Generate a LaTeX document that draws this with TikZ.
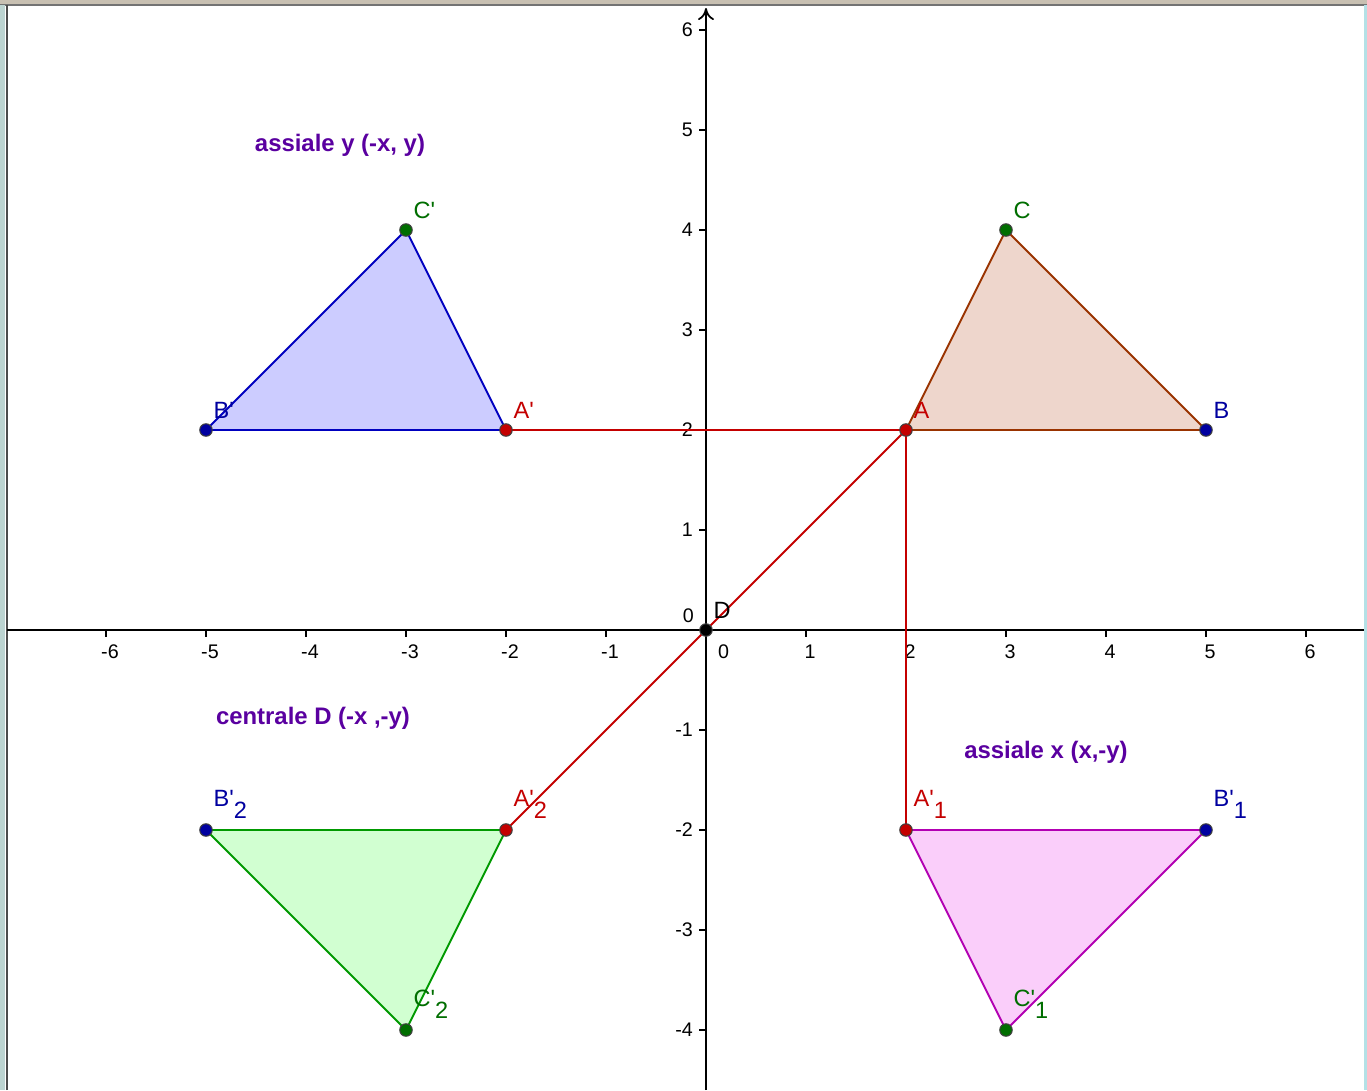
\documentclass[tikz,border=0pt]{standalone}
\usepackage{fontspec}
\setmainfont{Liberation Sans}
\usepackage{xcolor}
\definecolor{ggRed}{RGB}{196,0,0}
\definecolor{ggBlue}{RGB}{0,0,160}
\definecolor{ggGreen}{RGB}{0,110,0}
\definecolor{ggPurple}{RGB}{90,0,160}
\definecolor{ggBrown}{RGB}{153,51,0}
\definecolor{ggTan}{RGB}{238,214,204}
\definecolor{ggPink}{RGB}{250,206,250}
\definecolor{ggFrame}{RGB}{200,192,178}
\definecolor{ggSky}{RGB}{180,225,230}
\usepackage{tikz}
\usetikzlibrary{arrows.meta}
\newcommand{\lowsub}[1]{\raisebox{-0.95ex}{#1}}
\newcommand{\pr}{\textquotesingle}

\begin{document}
\begin{tikzpicture}[x=1cm,y=1cm,
  pt/.style={circle,inner sep=0pt,minimum size=1.25mm,draw=black!75,line width=0.3pt},
  lab/.style={anchor=south west,inner sep=0pt,font=\fontsize{6.7}{7}\selectfont,xshift=0.7mm,yshift=1.1mm},
  ttl/.style={font=\fontsize{6.8}{8}\selectfont\bfseries,text=ggPurple},
  tk/.style={font=\fontsize{5.6}{6}\selectfont,inner sep=1pt},
  tri/.style={line width=0.55pt},
  seg/.style={ggRed,line width=0.55pt}]
  % window frame
  \fill[white] (-7.06,-4.60) rectangle (6.61,6.30);
  \useasboundingbox (-7.06,-4.60) rectangle (6.61,6.30);
  \fill[ggFrame] (-7.06,6.25) rectangle (6.61,6.30);
  \draw[black!55,line width=0.6pt] (-7.06,6.25) -- (6.61,6.25);
  \fill[ggSky!60!ggFrame] (-7.06,-4.60) rectangle (-7.01,6.25);
  \draw[black!70,line width=0.6pt] (-6.99,-4.60) -- (-6.99,6.25);
  \fill[ggSky] (6.58,-4.60) rectangle (6.61,6.25);

  % axes
  \draw[line width=0.5pt] (-6.99,0) -- (6.58,0);
  \draw[line width=0.5pt,-{To[length=1.2mm,width=1.6mm]}] (0,-4.60) -- (0,6.22);
  \foreach \x in {-6,-5,-4,-3,-2,-1,1,2,3,4,5,6}{
    \draw[line width=0.4pt] (\x,0) -- (\x,-0.07);
    \node[tk,anchor=north] at (\x+0.04,-0.11) {\x};}
  \foreach \y in {-4,-3,-2,-1,1,2,3,4,5,6}{
    \draw[line width=0.4pt] (0,\y) -- (-0.07,\y);
    \node[tk,anchor=east] at (-0.09,\y) {\y};}
  \node[tk,anchor=north west] at (0.08,-0.11) {0};
  \node[tk,anchor=south east] at (-0.08,0.03) {0};

  % points
  \coordinate (A) at (2,2);   \coordinate (B) at (5,2);   \coordinate (C) at (3,4);
  \coordinate (Ay) at (-2,2); \coordinate (By) at (-5,2); \coordinate (Cy) at (-3,4);
  \coordinate (Ax) at (2,-2); \coordinate (Bx) at (5,-2); \coordinate (Cx) at (3,-4);
  \coordinate (Ac) at (-2,-2);\coordinate (Bc) at (-5,-2);\coordinate (Cc) at (-3,-4);
  \coordinate (D) at (0,0);

  % triangles
  \filldraw[tri,draw=ggBrown,fill=ggTan] (A) -- (B) -- (C) -- cycle;
  \filldraw[tri,draw=blue!75!black,fill=blue!20] (Ay) -- (By) -- (Cy) -- cycle;
  \filldraw[tri,draw=green!60!black,fill=green!18] (Ac) -- (Bc) -- (Cc) -- cycle;
  \filldraw[tri,draw=violet!60!magenta,fill=ggPink] (Ax) -- (Bx) -- (Cx) -- cycle;

  % images of A
  \draw[seg] (A) -- (Ay);
  \draw[seg] (A) -- (Ax);
  \draw[seg] (Ac) -- (D) -- (A);

  \foreach \p in {A,Ay,Ax,Ac}{\node[pt,fill=ggRed] at (\p) {};}
  \foreach \p in {B,By,Bx,Bc}{\node[pt,fill=ggBlue] at (\p) {};}
  \foreach \p in {C,Cy,Cx,Cc}{\node[pt,fill=ggGreen] at (\p) {};}
  \node[pt,fill=black] at (D) {};

  % labels
  \node[lab,text=ggRed] (lA) at (A) {A};
  \node[lab,text=ggBlue] (lB) at (B) {B};
  \node[lab,text=ggGreen] (lC) at (C) {C};
  \node[lab,text=ggRed] (lAy) at (Ay) {A\pr};
  \node[lab,text=ggBlue] (lBy) at (By) {B\pr};
  \node[lab,text=ggGreen] (lCy) at (Cy) {C\pr};
  \node[lab,text=ggRed] (lAx) at (Ax) {A\pr\lowsub{1}};
  \node[lab,text=ggBlue] (lBx) at (Bx) {B\pr\lowsub{1}};
  \node[lab,text=ggGreen] (lCx) at (Cx) {C\pr\lowsub{1}};
  \node[lab,text=ggRed] (lAc) at (Ac) {A\pr\lowsub{2}};
  \node[lab,text=ggBlue] (lBc) at (Bc) {B\pr\lowsub{2}};
  \node[lab,text=ggGreen] (lCc) at (Cc) {C\pr\lowsub{2}};
  \node[lab] (lD) at (D) {D};

  \node[ttl] (ty) at (-3.66,4.85) {assiale y (-x, y)};
  \node[ttl] (tc) at (-3.93,-0.88) {centrale D (-x ,-y)};
  \node[ttl] (tx) at (3.40,-1.22) {assiale x (x,-y)};
\end{tikzpicture}
\end{document}
